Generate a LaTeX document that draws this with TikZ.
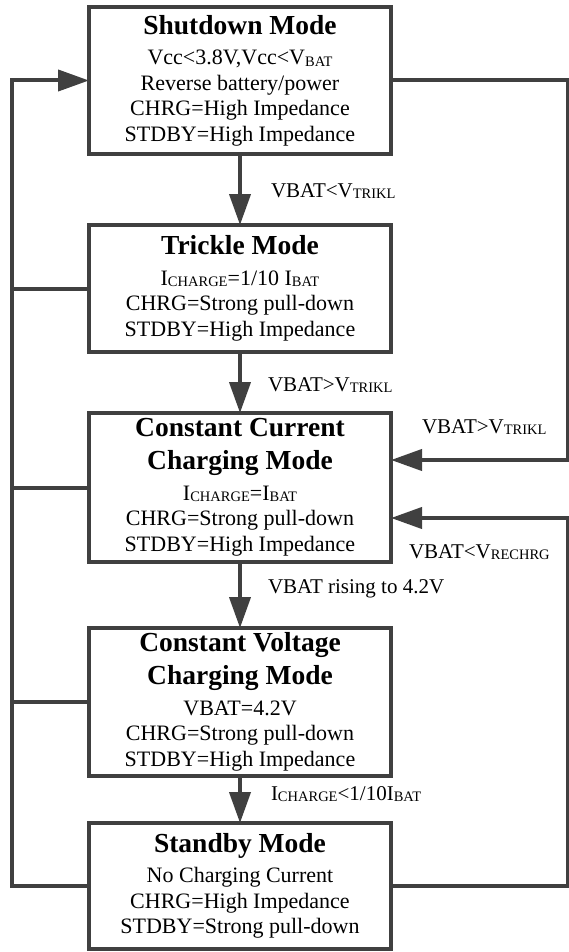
\documentclass[tikz,border=0pt]{standalone}
\usepackage{fontspec}
\setmainfont{Liberation Serif}
\usetikzlibrary{arrows.meta,calc}
\definecolor{lc}{HTML}{404040}
\newcommand{\sbx}[1]{\raisebox{-1.5pt}{\fontsize{14.5}{14.5}\selectfont #1}}
\newcommand{\ttl}[1]{{\fontsize{27.5}{33}\selectfont\bfseries #1}}
\begin{document}
\begin{tikzpicture}[x=1pt,y=-1pt,
  every node/.style={inner sep=0pt, outer sep=0pt},
  box/.style={draw=lc, line width=4pt, minimum width=302pt, align=center,
    font=\fontsize{22}{25.5}\selectfont, text=black},
  conn/.style={draw=lc, line width=4pt},
  tip/.style={-{Triangle[length=31pt,width=21pt]}},
  lbl/.style={anchor=west, font=\fontsize{21}{24}\selectfont, text=black}]
\useasboundingbox (0,0) rectangle (568,952);
\fill[white] (0,0) rectangle (568,952);

\node[box, minimum height=147pt] (S) at (240,80.5)
  {\ttl{Shutdown Mode}\\[5pt]
   Vcc<3.8V,Vcc<V\sbx{BAT}\\
   Reverse battery/power\\
   CHRG=High Impedance\\
   STDBY=High Impedance};
\node[box, minimum height=127pt] (T) at (240,288.5)
  {\ttl{Trickle Mode}\\[5pt]
   I\sbx{CHARGE}=1/10 I\sbx{BAT}\\
   CHRG=Strong pull-down\\
   STDBY=High Impedance};
\node[box, minimum height=149pt] (CC) at (240,487.5)
  {\ttl{Constant Current}\\[7.5pt]
   \ttl{Charging Mode}\\[5pt]
   I\sbx{CHARGE}=I\sbx{BAT}\\
   CHRG=Strong pull-down\\
   STDBY=High Impedance};
\node[box, minimum height=148pt] (CV) at (240,702)
  {\ttl{Constant Voltage}\\[7.5pt]
   \ttl{Charging Mode}\\[5pt]
   VBAT=4.2V\\
   CHRG=Strong pull-down\\
   STDBY=High Impedance};
\node[box, minimum height=126pt] (SB) at (240,886)
  {\ttl{Standby Mode}\\[5pt]
   No Charging Current\\
   CHRG=High Impedance\\
   STDBY=Strong pull-down};

\coordinate (L) at (12,0);
\coordinate (R) at (567.5,0);
\coordinate (cc1) at ($(CC.east)+(0,-27.5)$);
\coordinate (cc2) at ($(CC.east)+(0,30.5)$);

% main chain
\draw[conn,tip] (S.south) -- (T.north);
\draw[conn,tip] (T.south) -- (CC.north);
\draw[conn,tip] (CC.south) -- (CV.north);
\draw[conn,tip] (CV.south) -- (SB.north);

% left return to shutdown
\draw[conn,tip] (SB.west) -- (SB.west -| L) -- (S.west -| L) -- (S.west);
\draw[conn] (T.west) -- (T.west -| L);
\draw[conn] (CC.west) -- (CC.west -| L);
\draw[conn] (CV.west) -- (CV.west -| L);

% right returns to constant current
\draw[conn,tip] (S.east) -- (S.east -| R) -- (R |- cc1) -- (cc1);
\draw[conn,tip] (SB.east) -- (SB.east -| R) -- (R |- cc2) -- (cc2);

% labels
\node[lbl] (l1) at (271,191) {VBAT<V\sbx{TRIKL}};
\node[lbl] (l2) at (268,385) {VBAT>V\sbx{TRIKL}};
\node[lbl] (l3) at (422,427) {VBAT>V\sbx{TRIKL}};
\node[lbl] (l4) at (409,552) {VBAT<V\sbx{RECHRG}};
\node[lbl] (l5) at (268,589) {VBAT rising to 4.2V};
\node[lbl] (l6) at (271,794) {I\sbx{CHARGE}<1/10I\sbx{BAT}};
\end{tikzpicture}
\end{document}
